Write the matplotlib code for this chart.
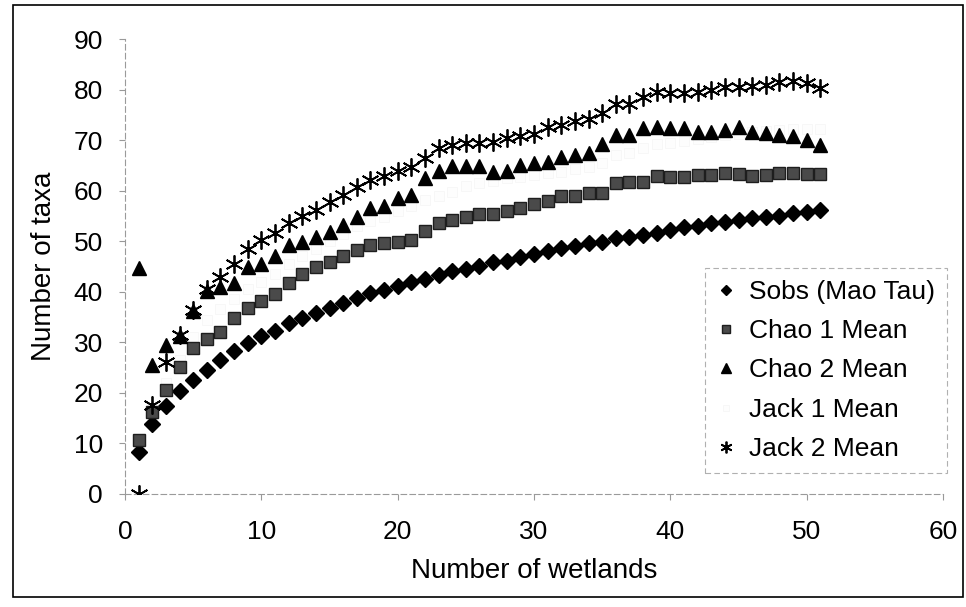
import matplotlib
matplotlib.use("Agg")
import matplotlib.pyplot as plt
from matplotlib.patches import Rectangle

plt.rcParams['font.family'] = ['Liberation Sans', 'DejaVu Sans']

# species accumulation estimates per number of sampled wetlands
wetlands = list(range(1, 52))

sobs = [8.3, 13.8, 17.4, 20.4, 22.5, 24.5, 26.5, 28.3, 29.9, 31.2,
        32.3, 33.8, 34.8, 35.8, 36.7, 37.8, 38.7, 39.7, 40.3, 41.1,
        41.9, 42.5, 43.3, 44.1, 44.5, 45.1, 45.8, 46.1, 46.9, 47.4,
        48.0, 48.6, 49.0, 49.6, 49.9, 50.6, 50.8, 51.2, 51.6, 52.2,
        52.8, 53.0, 53.6, 53.8, 54.2, 54.6, 54.8, 55.0, 55.6, 55.8, 56.2]

chao1 = [10.7, 16.2, 20.6, 25.1, 28.9, 30.7, 32.0, 34.8, 36.8, 38.2,
         39.6, 41.7, 43.5, 44.9, 45.9, 47.0, 48.2, 49.2, 49.6, 49.8,
         50.2, 52.0, 53.6, 54.2, 54.8, 55.4, 55.4, 55.9, 56.6, 57.4,
         58.0, 58.9, 59.0, 59.5, 59.5, 61.5, 61.7, 61.7, 62.9, 62.7,
         62.7, 63.1, 63.1, 63.5, 63.3, 62.9, 63.1, 63.5, 63.5, 63.3, 63.3]

chao2 = [44.7, 25.5, 29.5, 31.2, 36.2, 40.2, 40.9, 41.7, 44.9, 45.5,
         47.1, 49.2, 49.8, 50.8, 51.8, 53.3, 54.8, 56.6, 57.0, 58.5,
         59.1, 62.5, 63.9, 64.9, 64.9, 64.9, 63.6, 63.8, 65.1, 65.5,
         65.7, 66.7, 67.1, 67.4, 69.2, 71.0, 71.0, 72.4, 72.6, 72.4,
         72.4, 71.6, 71.6, 72.0, 72.6, 71.6, 71.4, 71.0, 70.8, 70.0, 69.0]

jack1 = [9.0, 16.8, 22.0, 26.5, 31.0, 34.5, 36.5, 38.5, 40.5, 42.0,
         43.5, 45.5, 47.0, 48.5, 50.0, 51.5, 53.0, 54.0, 54.8, 56.0,
         57.0, 58.2, 59.0, 59.8, 61.0, 61.5, 62.0, 62.5, 62.8, 63.2,
         63.5, 63.7, 64.2, 64.7, 65.5, 67.0, 67.5, 68.5, 69.2, 69.5,
         69.8, 70.2, 70.6, 71.0, 71.3, 71.6, 71.8, 72.0, 72.2, 72.3, 72.2]

jack2 = [0.0, 17.6, 26.1, 31.4, 36.4, 40.5, 42.9, 45.5, 48.5, 50.2,
         51.6, 53.6, 55.0, 56.2, 57.7, 59.2, 60.8, 62.1, 62.9, 63.9,
         64.7, 66.5, 68.4, 69.0, 69.4, 69.4, 69.6, 70.4, 70.9, 71.3,
         72.5, 73.0, 73.7, 74.2, 75.4, 77.1, 77.1, 78.5, 79.5, 79.3,
         79.3, 79.5, 79.9, 80.5, 80.5, 80.7, 80.9, 81.5, 81.7, 81.3, 80.3]

fig = plt.figure(figsize=(9.66, 6.07), dpi=100)
ax = fig.add_axes([0.1294, 0.1862, 0.8468, 0.7495])

asterisk = (6, 2, 0)
# Jack 1 is drawn in a near-white fill, so it barely shows
ax.plot(wetlands, jack1, ls='none', marker='s', ms=7.5, mfc='#fdfdfd',
        mec='#f5f5f5', mew=0.5, label='Jack 1 Mean', zorder=2)
ax.plot(wetlands, sobs, ls='none', marker='D', ms=8.5, mfc='black',
        mec='black', label='Sobs (Mao Tau)', zorder=3)
ax.plot(wetlands, chao1, ls='none', marker='s', ms=8.2, mfc='#4a4a4a',
        mec='#1e1e1e', mew=1.0, label='Chao 1 Mean', zorder=3)
ax.plot(wetlands, chao2, ls='none', marker='^', ms=10, mfc='black',
        mec='black', label='Chao 2 Mean', zorder=3)
ax.plot(wetlands, jack2, ls='none', marker=asterisk, ms=13, mfc='black',
        mec='black', mew=1.3, label='Jack 2 Mean', zorder=4)

ax.set_xlim(0, 60)
ax.set_ylim(0, 90)
ax.set_xticks(range(0, 61, 10))
ax.set_yticks(range(0, 91, 10))
ax.tick_params(axis='both', labelsize=19, length=4, width=0.8,
               color='#999999')
ax.tick_params(axis='x', pad=15)
ax.tick_params(axis='y', pad=12)

for side in ('top', 'right'):
    ax.spines[side].set_visible(False)
for side in ('left', 'bottom'):
    ax.spines[side].set_color('#9a9a9a')
    ax.spines[side].set_linestyle((0, (5, 3)))
    ax.spines[side].set_linewidth(0.8)

ax.set_xlabel('Number of wetlands', fontsize=20, labelpad=10)
ax.set_ylabel('Number of taxa', fontsize=20, labelpad=12)

handles, labels = ax.get_legend_handles_labels()
order = ['Sobs (Mao Tau)', 'Chao 1 Mean', 'Chao 2 Mean', 'Jack 1 Mean', 'Jack 2 Mean']
hmap = dict(zip(labels, handles))
leg = ax.legend([hmap[k] for k in order], order, loc='upper left',
                bbox_to_anchor=(0.730, 0.5585), bbox_transform=fig.transFigure,
                fontsize=19, markerscale=0.65, handlelength=0.7,
                handletextpad=0.5, labelspacing=0.58, borderpad=0.45,
                borderaxespad=0, fancybox=False, framealpha=1)
leg.get_frame().set_edgecolor('#b0b0b0')
leg.get_frame().set_linestyle((0, (5, 3)))
leg.get_frame().set_linewidth(0.8)

# outer chart border
fig.patches.append(Rectangle((13 / 966, 10 / 607), 950 / 966, 592 / 607,
                             transform=fig.transFigure, fill=False,
                             edgecolor='black', linewidth=1.2))

fig.savefig('out.png', dpi=100)
